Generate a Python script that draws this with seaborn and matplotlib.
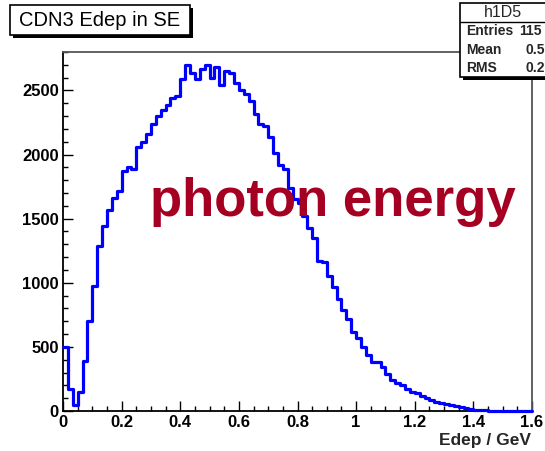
import numpy as np
import pandas as pd
import matplotlib
matplotlib.use("Agg")
import matplotlib.pyplot as plt
import seaborn as sns
from matplotlib.patches import Rectangle
from matplotlib.ticker import MultipleLocator, FuncFormatter

# ---- data (bin width 1/60 GeV, range 0-1.6) ----
bin_width = 1.0 / 60.0
counts = [
    500, 175, 50, 150, 390, 700, 975, 1290, 1440, 1570,
    1660, 1715, 1875, 1905, 1885, 2060, 2100, 2160, 2240, 2300,
    2350, 2390, 2440, 2460, 2590, 2700, 2640, 2590, 2670, 2700,
    2600, 2680, 2540, 2650, 2640, 2560, 2500, 2470, 2420, 2320,
    2240, 2220, 2140, 2010, 1920, 1890, 1740, 1650, 1620, 1520,
    1430, 1350, 1170, 1165, 1050, 970, 870, 790, 720, 620,
    570, 500, 440, 380, 380, 340, 290, 240, 215, 200,
    175, 150, 140, 120, 105, 86, 73, 65, 58, 47,
    38, 29, 22, 16, 9, 6, 4, 3, 2, 2,
    1, 1, 1, 1, 1, 1,
]
x_ticks = [0, 0.2, 0.4, 0.6, 0.8, 1.0, 1.2, 1.4, 1.6]
y_ticks = [0, 500, 1000, 1500, 2000, 2500]
title_text = "CDN3 Edep in SE"
hist_name = "h1D5"
stats_labels = ["Entries", "Mean", "RMS"]
stats_values = ["115", "0.5", "0.2"]   # only the part visible in the reference
x_label = "Edep / GeV"
annotation = "photon energy"

edges = [i * bin_width for i in range(len(counts) + 1)]
centers = [(i + 0.5) * bin_width for i in range(len(counts))]
df = pd.DataFrame({"edep": centers, "count": counts})

sns.set_theme(style="white")
plt.rcParams["font.family"] = ["Liberation Sans", "DejaVu Sans"]

W, H = 545, 451
fig = plt.figure(figsize=(W / 100, H / 100), dpi=100)
fig.patch.set_facecolor("white")

ax_l, ax_r, ax_b, ax_t = 63, 532, 411, 52
ax = fig.add_axes([ax_l / W, 1 - ax_b / H, (ax_r - ax_l) / W, (ax_b - ax_t) / H])

sns.histplot(data=df, x="edep", weights="count", bins=edges, element="step",
             fill=False, color="#0000ff", linewidth=2.3, ax=ax)
for ln in ax.lines:
    ln.set_zorder(4)
    ln.set_clip_on(False)

ax.set_xlim(0, 1.6)
ax.set_ylim(0, 2800)
ax.set_xlabel("")
ax.set_ylabel("")
ax.set_xticks(x_ticks)
ax.set_yticks(y_ticks)
ax.xaxis.set_minor_locator(MultipleLocator(0.05))
ax.yaxis.set_minor_locator(MultipleLocator(100))
ax.xaxis.set_major_formatter(FuncFormatter(lambda v, p: f"{v:g}"))
ax.yaxis.set_major_formatter(FuncFormatter(lambda v, p: f"{v:g}"))
ax.tick_params(which="both", direction="in", bottom=True, left=True, top=False, right=False,
               colors="black", labelcolor="black")
ax.tick_params(which="major", length=7, width=1.0, labelsize=12, pad=3)
ax.tick_params(which="minor", length=3.5, width=1.0)
for lab in ax.get_xticklabels() + ax.get_yticklabels():
    lab.set_fontweight("bold")

for side in ["left", "bottom"]:
    ax.spines[side].set_color("black")
    ax.spines[side].set_linewidth(1.3)
for side in ["top", "right"]:
    ax.spines[side].set_color("#555555")
    ax.spines[side].set_linewidth(1.3)
ax.spines["top"].set_visible(True)
ax.spines["right"].set_visible(True)

def px_rect(x0, y0, x1, y1, **kw):
    r = Rectangle((x0 / W, 1 - y1 / H), (x1 - x0) / W, (y1 - y0) / H,
                  transform=fig.transFigure, **kw)
    fig.add_artist(r)
    return r

# title box with shadow
px_rect(13, 8, 193, 38, facecolor="black", edgecolor="none", zorder=5)
px_rect(10, 5, 190, 35, facecolor="white", edgecolor="black", linewidth=1.2, zorder=6)
fig.text(100 / W, 1 - 20.5 / H, title_text, fontsize=14.5, ha="center", va="center",
         color="black", zorder=7)

# stats box (extends beyond right edge)
px_rect(463, 6, 560, 80, facecolor="black", edgecolor="none", zorder=5)
px_rect(460, 3, 557, 77, facecolor="white", edgecolor="black", linewidth=1.2, zorder=6)
fig.add_artist(plt.Line2D([460 / W, 1.0], [1 - 22 / H, 1 - 22 / H],
                          transform=fig.transFigure, color="black", linewidth=1.0, zorder=7))
fig.text(503 / W, 1 - 12.5 / H, hist_name, fontsize=11.5, ha="center", va="center", zorder=8)
row_y = [31, 49.5, 68]
val_x = [519, 526, 526]
for lab, val, yy, vx in zip(stats_labels, stats_values, row_y, val_x):
    fig.text(466 / W, 1 - yy / H, lab, fontsize=10, fontweight="bold", ha="left", va="center", zorder=8)
    fig.text(vx / W, 1 - yy / H, val, fontsize=10, fontweight="bold", ha="left", va="center", zorder=8)

# axis label
fig.text(531 / W, 1 - 440 / H, x_label, fontsize=12.5, fontweight="bold", ha="right", va="center")

# big annotation
fig.text(150 / W, 1 - 216 / H, annotation, fontsize=38, fontweight="bold", color="#a50021",
         ha="left", va="baseline")

fig.savefig("out.png", dpi=100, facecolor="white")
